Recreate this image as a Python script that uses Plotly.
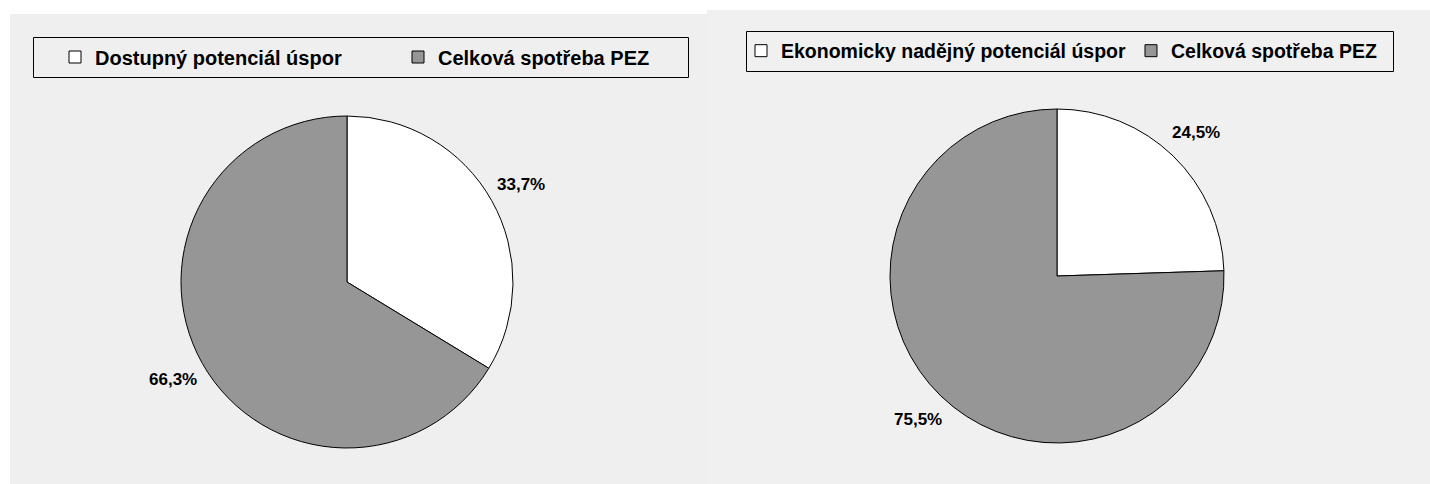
import math
import plotly.graph_objects as go

# Data
labels_left = ["Dostupný potenciál úspor", "Celková spotřeba PEZ"]
values_left = [33.7, 66.3]

# Pie legend entries are merged by label across traces, so the shared
# category carries a trailing space to keep its own entry in the second legend.
labels_right = ["Ekonomicky nadějný potenciál úspor", "Celková spotřeba PEZ "]
values_right = [24.5, 75.5]

slice_colors = ["#ffffff", "#969696"]

W, H = 1430, 484
FONT = "Liberation Sans"


def px(x):
    return x / W


def py(y):
    return 1 - y / H


def fmt_pct(v, total):
    return f"{100 * v / total:.1f}%".replace(".", ",")


fig = go.Figure()

common = dict(
    sort=False,
    direction="clockwise",
    rotation=0,
    marker=dict(colors=slice_colors, line=dict(color="#000000", width=1)),
    textinfo="none",
    hoverinfo="label+percent",
)

# pie geometry in pixels: (left, right, top, bottom)
pies = [
    dict(labels=labels_left, values=values_left, box=(181, 513, 116, 448), legend="legend"),
    dict(labels=labels_right, values=values_right, box=(890, 1224, 109, 443), legend="legend2"),
]

annotations = []
for p in pies:
    x0, x1, y0, y1 = p["box"]
    fig.add_trace(go.Pie(
        labels=p["labels"], values=p["values"],
        domain=dict(x=[px(x0), px(x1)], y=[py(y1), py(y0)]),
        legend=p["legend"],
        **common,
    ))
    # percentage labels placed outside each slice along its mid-angle
    cx, cy = (x0 + x1) / 2, (y0 + y1) / 2
    r = min(x1 - x0, y1 - y0) / 2
    total = sum(p["values"])
    cum = 0.0
    for v in p["values"]:
        ang = 2 * math.pi * (cum + v / 2) / total
        cum += v
        lx = cx + 1.2 * r * math.sin(ang)
        ly = cy - 1.2 * r * math.cos(ang)
        annotations.append(dict(
            x=px(lx), y=py(ly), xref="paper", yref="paper",
            xanchor="center", yanchor="middle", showarrow=False,
            text=fmt_pct(v, total),
            font=dict(family=FONT, size=17, color="#000000", weight="bold"),
        ))

# Panel backgrounds and legend frames
shapes = [
    dict(type="rect", xref="paper", yref="paper", layer="below",
         x0=px(10), x1=px(707), y0=py(484), y1=py(14),
         fillcolor="#efefef", line=dict(width=0)),
    dict(type="rect", xref="paper", yref="paper", layer="below",
         x0=px(707), x1=px(1430), y0=py(484), y1=py(10),
         fillcolor="#f0f0f0", line=dict(width=0)),
    dict(type="rect", xref="paper", yref="paper", layer="below",
         x0=px(33.5), x1=px(688.5), y0=py(77.5), y1=py(37.5),
         fillcolor="#efefef", line=dict(color="#000000", width=1)),
    dict(type="rect", xref="paper", yref="paper", layer="below",
         x0=px(746.5), x1=px(1393.5), y0=py(71.5), y1=py(31.5),
         fillcolor="#f0f0f0", line=dict(color="#000000", width=1)),
]

fig.update_layout(
    width=W, height=H,
    margin=dict(l=0, r=0, t=0, b=0),
    paper_bgcolor="#ffffff",
    plot_bgcolor="#ffffff",
    shapes=shapes,
    annotations=annotations,
    legend=dict(
        orientation="h", x=px(55), xanchor="left", y=py(57), yanchor="middle",
        bgcolor="rgba(0,0,0,0)", borderwidth=0,
        font=dict(family=FONT, size=20, color="#000000", weight="bold"),
        entrywidth=298, entrywidthmode="pixels",
    ),
    legend2=dict(
        orientation="h", x=px(741), xanchor="left", y=py(51), yanchor="middle",
        bgcolor="rgba(0,0,0,0)", borderwidth=0,
        font=dict(family=FONT, size=19.5, color="#000000", weight="bold"),
    ),
)

fig.write_html("out.html")
